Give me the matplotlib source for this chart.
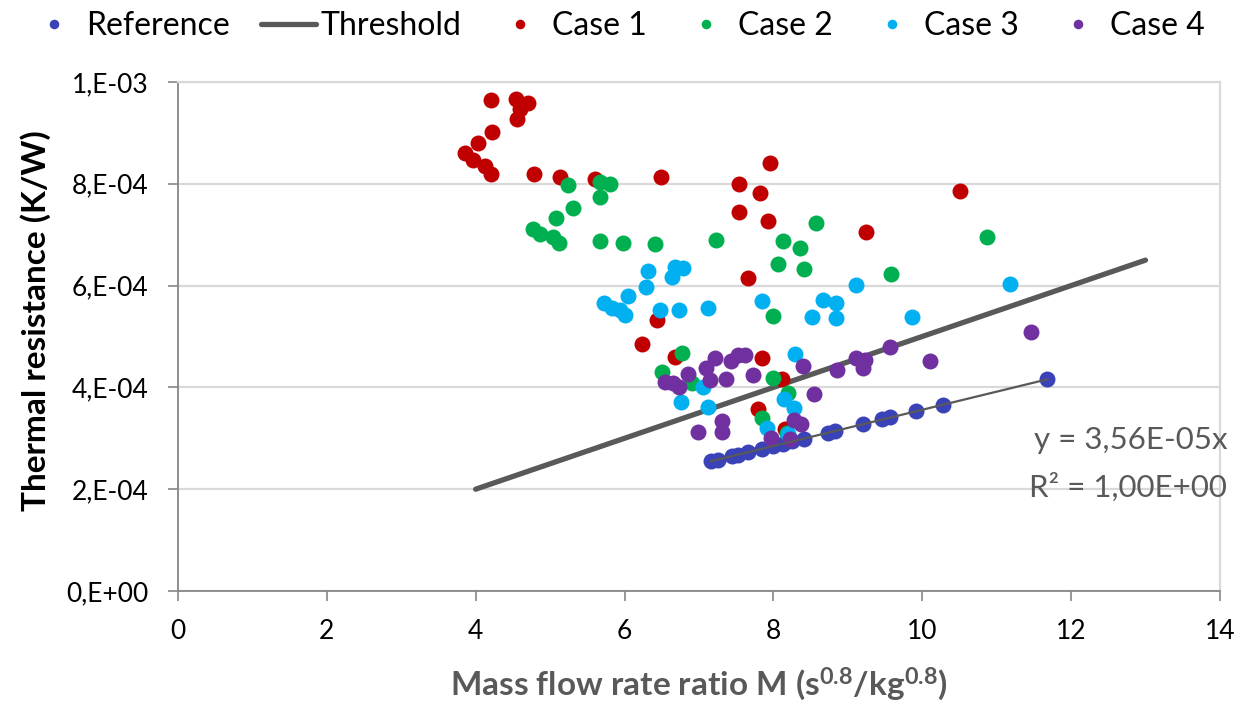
import numpy as np
import matplotlib.pyplot as plt
from matplotlib.ticker import FuncFormatter

plt.rcParams['font.family'] = ['Lato', 'DejaVu Sans']
plt.rcParams['mathtext.fontset'] = 'custom'
plt.rcParams['mathtext.rm'] = 'Lato:bold'
plt.rcParams['mathtext.it'] = 'Lato:bold'
plt.rcParams['mathtext.bf'] = 'Lato:bold'

# Reference series (Mass flow rate ratio M, thermal resistance K/W)
ref_x = [7.16, 7.26, 7.44, 7.52, 7.66, 7.85, 7.99, 8.13, 8.25, 8.41,
         8.73, 8.83, 9.20, 9.46, 9.57, 9.92, 10.28, 11.68]
ref_y = [2.55e-4, 2.58e-4, 2.65e-4, 2.68e-4, 2.73e-4, 2.79e-4, 2.84e-4, 2.89e-4,
         2.94e-4, 2.99e-4, 3.11e-4, 3.14e-4, 3.28e-4, 3.37e-4, 3.41e-4, 3.53e-4,
         3.66e-4, 4.16e-4]

thr_x = [4, 13]
thr_y = [2.0e-4, 6.5e-4]

# cases: y in units of 1e-4 K/W
c1_x = [4.21, 4.54, 4.70, 4.59, 4.55, 4.22, 4.03, 3.86, 3.96, 4.12, 4.21, 4.78,
        5.13, 5.60, 6.49, 7.54, 7.95, 7.82, 7.54, 7.93, 9.24, 10.51, 7.66, 6.44,
        6.23, 6.68, 7.85, 8.11, 7.79, 8.16]
c1_y = [9.65, 9.67, 9.59, 9.47, 9.27, 9.02, 8.80, 8.61, 8.47, 8.35, 8.19, 8.19,
        8.13, 8.09, 8.13, 8.00, 8.41, 7.82, 7.45, 7.27, 7.05, 7.86, 6.15, 5.32,
        4.85, 4.60, 4.58, 4.17, 3.58, 3.18]

c2_x = [5.24, 5.67, 5.80, 5.67, 5.31, 5.08, 4.77, 4.86, 5.04, 5.12, 5.67, 5.98,
        6.41, 7.23, 8.57, 8.13, 8.36, 8.06, 8.41, 9.58, 10.87, 7.99, 6.77, 6.50,
        6.91, 7.99, 8.20, 7.85, 8.18]
c2_y = [7.98, 8.04, 8.00, 7.74, 7.52, 7.33, 7.11, 7.01, 6.95, 6.84, 6.88, 6.84,
        6.82, 6.90, 7.23, 6.88, 6.74, 6.42, 6.33, 6.23, 6.95, 5.40, 4.68, 4.30,
        4.09, 4.18, 3.89, 3.40, 3.10]

c3_x = [6.31, 6.68, 6.78, 6.64, 6.29, 6.05, 5.72, 5.83, 5.94, 6.01, 6.48, 6.73,
        7.12, 7.85, 8.67, 8.84, 8.52, 8.84, 9.11, 9.86, 11.18, 8.29, 7.05, 6.76,
        7.12, 8.14, 8.28, 7.91, 8.20]
c3_y = [6.29, 6.37, 6.35, 6.17, 5.97, 5.80, 5.66, 5.56, 5.52, 5.42, 5.52, 5.52,
        5.56, 5.70, 5.72, 5.66, 5.38, 5.36, 6.01, 5.38, 6.03, 4.66, 4.01, 3.71,
        3.61, 3.77, 3.60, 3.20, 3.08]

c4_x = [6.54, 6.65, 6.73, 6.85, 7.09, 7.21, 7.15, 7.36, 7.43, 7.52, 7.62, 7.73,
        8.40, 8.54, 8.85, 9.11, 9.23, 9.20, 9.57, 10.10, 11.46, 7.31, 7.31, 6.99,
        8.28, 8.37, 7.97, 8.22]
c4_y = [4.11, 4.09, 4.01, 4.26, 4.38, 4.58, 4.15, 4.17, 4.52, 4.64, 4.64, 4.24,
        4.42, 3.87, 4.34, 4.58, 4.54, 4.38, 4.79, 4.52, 5.09, 3.34, 3.12, 3.12,
        3.36, 3.28, 3.01, 2.99]

cases = [("Case 1", c1_x, c1_y, "#C00000"),
         ("Case 2", c2_x, c2_y, "#00B050"),
         ("Case 3", c3_x, c3_y, "#00B0F0"),
         ("Case 4", c4_x, c4_y, "#7030A0")]

fig = plt.figure(figsize=(12.41, 7.05), dpi=100)
ax = fig.add_axes([0.1434, 0.1617, 0.8396, 0.722])

ms = 11.5
h_ref, = ax.plot(ref_x, ref_y, 'o', ms=ms, color="#3A42B8", mec="none", label="Reference", zorder=3)
h_thr, = ax.plot(thr_x, thr_y, '-', lw=3.8, color="#595959", solid_capstyle='round',
                 label="Threshold", zorder=3)
handles = [h_ref, h_thr]
for name, xs, ys, col in cases:
    h, = ax.plot(xs, np.array(ys) * 1e-4, 'o', ms=ms, color=col, mec="none", label=name, zorder=4)
    handles.append(h)

# linear trendline through origin for the reference series
rx = np.array(ref_x)
ry = np.array(ref_y)
slope = np.sum(rx * ry) / np.sum(rx * rx)
xx = np.array([rx.min(), rx.max()])
ax.plot(xx, slope * xx, '-', lw=1.6, color="#595959", zorder=5)

ax.text(14.1, 2.97e-4, "y = 3,56E-05x", ha='right', va='center', fontsize=22.5,
        color="#595959", clip_on=False)
ax.text(14.1, 2.04e-4, "R² = 1,00E+00", ha='right', va='center', fontsize=22.5,
        color="#595959", clip_on=False)

ax.set_xlim(0, 14)
ax.set_ylim(0, 1e-3)
ax.set_xticks(np.arange(0, 15, 2))
ax.set_yticks(np.arange(0, 1.01e-3, 2e-4))


def sci_comma(v, pos):
    if v == 0:
        return "0,E+00"
    e = int(np.floor(np.log10(abs(v)) + 1e-9))
    m = int(round(v / 10 ** e))
    return f"{m},E{e:+03d}"


ax.yaxis.set_major_formatter(FuncFormatter(sci_comma))
ax.grid(axis='y', color="#D9D9D9", lw=1.6)
ax.set_axisbelow(True)
for s in ['top', 'right']:
    ax.spines[s].set_color("#D9D9D9")
    ax.spines[s].set_linewidth(1.6)
for s in ['left', 'bottom']:
    ax.spines[s].set_color("#868686")
    ax.spines[s].set_linewidth(1.3)
ax.tick_params(axis='both', direction='out', length=7, width=1.2, color="#868686",
               labelsize=19, labelcolor="black")
ax.tick_params(axis='x', pad=13)
ax.tick_params(axis='y', pad=14)

ax.set_xlabel(r"Mass flow rate ratio M (s$^{0.8}$/kg$^{0.8}$)",
              fontsize=24, fontweight='bold', color="#595959", va='center')
ax.set_ylabel("Thermal resistance (K/W)", fontsize=24, fontweight='bold',
              color="black", va='center')
ax.xaxis.set_label_coords(0.5, -0.183)
ax.yaxis.set_label_coords(-0.137, 0.532)

fig.legend(handles=handles, loc='upper center', bbox_to_anchor=(0.496, 1.025), ncol=6,
           frameon=False, fontsize=23, markerscale=0.6, handlelength=1.7,
           handletextpad=0.15, columnspacing=1.0)

fig.savefig("out.png", dpi=100)
